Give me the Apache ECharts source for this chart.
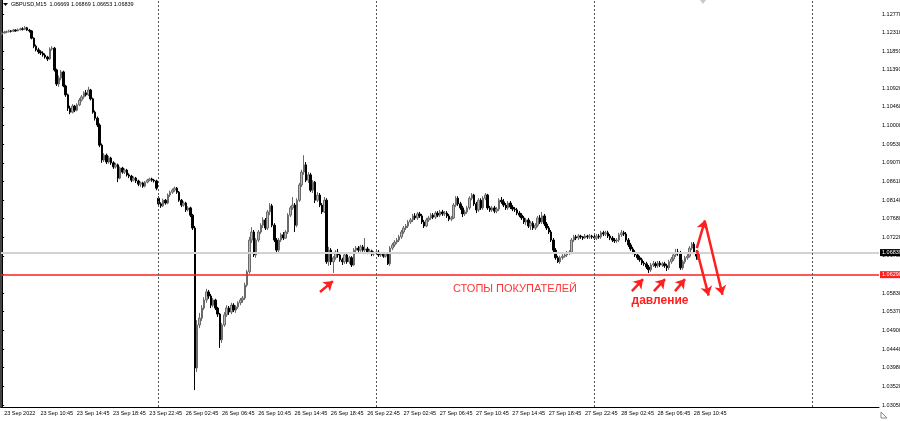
<!DOCTYPE html>
<html>
<head>
<meta charset="utf-8">
<title>GBPUSD,M15</title>
<script src="https://cdn.jsdelivr.net/npm/echarts@6/dist/echarts.min.js"></script>
<style>
html, body { margin: 0; padding: 0; background: #fff; }
#chart { width: 900px; height: 421px; }
</style>
</head>
<body>
<div id="chart"></div>
<script>
// M15 candles, [open, close, low, high], one array per trading day
var sep23 = [
  [1.1227,1.1230,1.1224,1.1233],[1.1230,1.1232,1.1228,1.1235],[1.1232,1.1233,1.1229,1.1236],[1.1233,1.1235,1.1231,1.1238],
  [1.1235,1.1234,1.1231,1.1237],[1.1234,1.1237,1.1232,1.1240],[1.1237,1.1235,1.1233,1.1239],[1.1235,1.1238,1.1234,1.1241],
  [1.1238,1.1240,1.1236,1.1243],[1.1240,1.1239,1.1236,1.1244],[1.1239,1.1243,1.1237,1.1247],[1.1243,1.1237,1.1235,1.1245],
  [1.1237,1.1235,1.1231,1.1240],[1.1235,1.1217,1.1214,1.1237],[1.1217,1.1197,1.1192,1.1219],[1.1197,1.1188,1.1184,1.1201],
  [1.1188,1.1183,1.1178,1.1193],[1.1183,1.1180,1.1175,1.1187],[1.1180,1.1175,1.1171,1.1184],[1.1175,1.1170,1.1166,1.1179],
  [1.1170,1.1165,1.1160,1.1173],[1.1165,1.1190,1.1163,1.1194],[1.1190,1.1192,1.1186,1.1197],[1.1192,1.1138,1.1134,1.1195],
  [1.1138,1.1103,1.1098,1.1141],[1.1103,1.1118,1.1096,1.1124],[1.1118,1.1133,1.1112,1.1138],[1.1133,1.1098,1.1095,1.1136],
  [1.1098,1.1076,1.1071,1.1101],[1.1076,1.1043,1.1036,1.1079],[1.1043,1.1033,1.1028,1.1049],[1.1033,1.1048,1.1030,1.1053],
  [1.1048,1.1038,1.1033,1.1051],[1.1038,1.1051,1.1035,1.1055],[1.1051,1.1063,1.1048,1.1068],[1.1063,1.1071,1.1059,1.1076],
  [1.1071,1.1081,1.1066,1.1085],[1.1081,1.1076,1.1072,1.1088],[1.1076,1.1088,1.1073,1.1096],[1.1088,1.1066,1.1062,1.1091],
  [1.1066,1.1033,1.1029,1.1069],[1.1033,1.1018,1.1012,1.1037],[1.1018,1.1001,1.0996,1.1022],[1.1001,1.0951,1.0946,1.1005],
  [1.0951,1.0914,1.0907,1.0955],[1.0914,1.0926,1.0909,1.0931],[1.0926,1.0909,1.0904,1.0930],[1.0909,1.0919,1.0905,1.0924],
  [1.0919,1.0907,1.0902,1.0922],[1.0907,1.0897,1.0892,1.0911],[1.0897,1.0902,1.0893,1.0907],[1.0902,1.0869,1.0859,1.0905],
  [1.0869,1.0894,1.0866,1.0898],[1.0894,1.0884,1.0880,1.0897],[1.0884,1.0889,1.0879,1.0893],[1.0889,1.0877,1.0873,1.0892],
  [1.0877,1.0874,1.0869,1.0881],[1.0874,1.0864,1.0859,1.0877],[1.0864,1.0869,1.0861,1.0873],[1.0869,1.0862,1.0857,1.0872],
  [1.0862,1.0854,1.0849,1.0865],[1.0854,1.0857,1.0847,1.0860],[1.0857,1.0849,1.0845,1.0860],[1.0849,1.0859,1.0846,1.0862],
  [1.0859,1.0864,1.0856,1.0867],[1.0864,1.0867,1.0861,1.0870],[1.0867,1.0864,1.0860,1.0870],[1.0864,1.0862,1.0858,1.0867],
  [1.0862,1.0844,1.0839,1.0865]
];
var sep26 = [
  [1.0819,1.0805,1.0800,1.0824],[1.0805,1.0800,1.0795,1.0809],[1.0800,1.0814,1.0797,1.0818],[1.0814,1.0807,1.0803,1.0817],
  [1.0807,1.0827,1.0804,1.0831],[1.0827,1.0834,1.0822,1.0838],[1.0834,1.0839,1.0830,1.0843],[1.0839,1.0844,1.0835,1.0848],
  [1.0844,1.0834,1.0830,1.0847],[1.0834,1.0814,1.0810,1.0837],[1.0814,1.0802,1.0797,1.0817],[1.0802,1.0807,1.0798,1.0811],
  [1.0807,1.0790,1.0785,1.0810],[1.0790,1.0795,1.0786,1.0799],[1.0795,1.0777,1.0772,1.0798],[1.0777,1.0745,1.0740,1.0780],
  [1.0745,1.0397,1.0342,1.0750],[1.0397,1.0504,1.0387,1.0516],[1.0504,1.0521,1.0496,1.0534],[1.0521,1.0546,1.0514,1.0553],
  [1.0546,1.0566,1.0541,1.0573],[1.0566,1.0586,1.0559,1.0594],[1.0586,1.0576,1.0569,1.0591],[1.0576,1.0553,1.0546,1.0581],
  [1.0553,1.0566,1.0548,1.0571],[1.0566,1.0546,1.0541,1.0569],[1.0546,1.0531,1.0524,1.0549],[1.0531,1.0467,1.0447,1.0534],
  [1.0467,1.0504,1.0459,1.0509],[1.0504,1.0529,1.0499,1.0536],[1.0529,1.0546,1.0524,1.0553],[1.0546,1.0536,1.0529,1.0551],
  [1.0536,1.0553,1.0531,1.0559],[1.0553,1.0541,1.0536,1.0558],[1.0541,1.0549,1.0534,1.0553],[1.0549,1.0559,1.0544,1.0563],
  [1.0559,1.0566,1.0553,1.0571],[1.0566,1.0571,1.0559,1.0576],[1.0571,1.0603,1.0566,1.0609],[1.0603,1.0636,1.0598,1.0641],
  [1.0636,1.0715,1.0631,1.0723],[1.0715,1.0735,1.0708,1.0747],[1.0735,1.0678,1.0673,1.0740],[1.0678,1.0715,1.0671,1.0720],
  [1.0715,1.0735,1.0710,1.0740],[1.0735,1.0752,1.0730,1.0757],[1.0752,1.0765,1.0745,1.0772],[1.0765,1.0745,1.0740,1.0770],
  [1.0745,1.0785,1.0740,1.0790],[1.0785,1.0800,1.0777,1.0807],[1.0800,1.0752,1.0747,1.0805],[1.0752,1.0715,1.0710,1.0757],
  [1.0715,1.0690,1.0683,1.0720],[1.0690,1.0715,1.0685,1.0720],[1.0715,1.0728,1.0710,1.0733],[1.0728,1.0720,1.0715,1.0735],
  [1.0720,1.0735,1.0718,1.0740],[1.0735,1.0777,1.0730,1.0782],[1.0777,1.0795,1.0772,1.0800],[1.0795,1.0802,1.0790,1.0822],
  [1.0802,1.0752,1.0735,1.0807],[1.0752,1.0814,1.0747,1.0819],[1.0814,1.0852,1.0810,1.0857],[1.0852,1.0884,1.0847,1.0890],
  [1.0884,1.0902,1.0877,1.0926],[1.0902,1.0864,1.0859,1.0909],[1.0864,1.0877,1.0857,1.0884],[1.0877,1.0839,1.0834,1.0882],
  [1.0839,1.0859,1.0832,1.0864],[1.0859,1.0814,1.0807,1.0862],[1.0814,1.0827,1.0810,1.0834],[1.0827,1.0802,1.0797,1.0832],
  [1.0802,1.0785,1.0780,1.0807],[1.0785,1.0814,1.0782,1.0822],[1.0814,1.0661,1.0656,1.0819],[1.0661,1.0690,1.0651,1.0698],
  [1.0690,1.0661,1.0653,1.0695],[1.0661,1.0671,1.0633,1.0675],[1.0671,1.0685,1.0666,1.0690],[1.0685,1.0678,1.0671,1.0693],
  [1.0678,1.0666,1.0661,1.0683],[1.0666,1.0661,1.0653,1.0671],[1.0661,1.0678,1.0656,1.0683],[1.0678,1.0661,1.0656,1.0685],
  [1.0661,1.0671,1.0656,1.0676],[1.0671,1.0653,1.0648,1.0675],[1.0653,1.0690,1.0651,1.0695],[1.0690,1.0695,1.0685,1.0700],
  [1.0695,1.0690,1.0685,1.0700],[1.0690,1.0698,1.0686,1.0703],[1.0698,1.0690,1.0686,1.0703],[1.0690,1.0693,1.0685,1.0720],
  [1.0693,1.0685,1.0680,1.0698],[1.0685,1.0688,1.0680,1.0693],[1.0688,1.0680,1.0675,1.0691],[1.0680,1.0683,1.0675,1.0688]
];
var sep27 = [
  [1.0683,1.0685,1.0678,1.0690],[1.0685,1.0678,1.0673,1.0690],[1.0678,1.0680,1.0673,1.0685],[1.0680,1.0675,1.0671,1.0685],
  [1.0675,1.0680,1.0671,1.0683],[1.0680,1.0656,1.0653,1.0683],[1.0656,1.0695,1.0651,1.0700],[1.0695,1.0703,1.0690,1.0708],
  [1.0703,1.0710,1.0698,1.0715],[1.0710,1.0715,1.0705,1.0720],[1.0715,1.0723,1.0710,1.0728],[1.0723,1.0735,1.0718,1.0740],
  [1.0735,1.0745,1.0730,1.0750],[1.0745,1.0750,1.0740,1.0755],[1.0750,1.0760,1.0745,1.0765],[1.0760,1.0765,1.0755,1.0770],
  [1.0765,1.0775,1.0760,1.0780],[1.0775,1.0770,1.0765,1.0782],[1.0770,1.0780,1.0765,1.0785],[1.0780,1.0775,1.0770,1.0785],
  [1.0775,1.0760,1.0755,1.0780],[1.0760,1.0750,1.0745,1.0765],[1.0750,1.0765,1.0747,1.0770],[1.0765,1.0770,1.0760,1.0775],
  [1.0770,1.0777,1.0765,1.0782],[1.0777,1.0772,1.0767,1.0782],[1.0772,1.0782,1.0767,1.0787],[1.0782,1.0777,1.0772,1.0787],
  [1.0777,1.0785,1.0772,1.0790],[1.0785,1.0780,1.0775,1.0790],[1.0780,1.0782,1.0775,1.0787],[1.0782,1.0775,1.0770,1.0787],
  [1.0775,1.0767,1.0762,1.0780],[1.0767,1.0770,1.0762,1.0775],[1.0770,1.0802,1.0767,1.0807],[1.0802,1.0819,1.0797,1.0824],
  [1.0819,1.0805,1.0800,1.0824],[1.0805,1.0795,1.0790,1.0810],[1.0795,1.0780,1.0772,1.0800],[1.0780,1.0785,1.0775,1.0790],
  [1.0785,1.0795,1.0780,1.0800],[1.0795,1.0819,1.0790,1.0824],[1.0819,1.0827,1.0814,1.0832],[1.0827,1.0805,1.0800,1.0830],
  [1.0805,1.0790,1.0782,1.0810],[1.0790,1.0814,1.0785,1.0819],[1.0814,1.0795,1.0790,1.0819],[1.0795,1.0819,1.0790,1.0824],
  [1.0819,1.0827,1.0814,1.0832],[1.0827,1.0795,1.0790,1.0830],[1.0795,1.0790,1.0785,1.0800],[1.0790,1.0795,1.0785,1.0800],
  [1.0795,1.0787,1.0782,1.0800],[1.0787,1.0792,1.0782,1.0797],[1.0792,1.0814,1.0787,1.0819],[1.0814,1.0810,1.0805,1.0822],
  [1.0810,1.0802,1.0797,1.0817],[1.0802,1.0795,1.0790,1.0807],[1.0795,1.0807,1.0790,1.0812],[1.0807,1.0797,1.0792,1.0812],
  [1.0797,1.0792,1.0787,1.0802],[1.0792,1.0790,1.0785,1.0797],[1.0790,1.0782,1.0777,1.0795],[1.0782,1.0777,1.0772,1.0787],
  [1.0777,1.0770,1.0765,1.0782],[1.0770,1.0760,1.0755,1.0775],[1.0760,1.0765,1.0752,1.0770],[1.0765,1.0750,1.0745,1.0770],
  [1.0750,1.0757,1.0740,1.0762],[1.0757,1.0745,1.0740,1.0762],[1.0745,1.0752,1.0740,1.0757],[1.0752,1.0770,1.0747,1.0775],
  [1.0770,1.0760,1.0755,1.0777],[1.0760,1.0775,1.0755,1.0785],[1.0775,1.0755,1.0750,1.0780],[1.0755,1.0745,1.0740,1.0760],
  [1.0745,1.0735,1.0730,1.0750],[1.0735,1.0715,1.0710,1.0740],[1.0715,1.0690,1.0685,1.0720],[1.0690,1.0671,1.0666,1.0695],
  [1.0671,1.0661,1.0658,1.0676],[1.0661,1.0671,1.0656,1.0676],[1.0671,1.0675,1.0666,1.0680],[1.0675,1.0678,1.0671,1.0683],
  [1.0678,1.0683,1.0673,1.0688],[1.0683,1.0685,1.0678,1.0690],[1.0685,1.0715,1.0680,1.0720],[1.0715,1.0723,1.0710,1.0728],
  [1.0723,1.0720,1.0715,1.0728],[1.0720,1.0725,1.0715,1.0730],[1.0725,1.0723,1.0718,1.0728],[1.0723,1.0720,1.0715,1.0725],
  [1.0720,1.0725,1.0718,1.0730],[1.0725,1.0723,1.0718,1.0728],[1.0723,1.0725,1.0718,1.0730],[1.0725,1.0723,1.0718,1.0728]
];
var sep28 = [
  [1.0723,1.0720,1.0715,1.0728],[1.0720,1.0725,1.0715,1.0730],[1.0725,1.0723,1.0718,1.0730],[1.0723,1.0733,1.0718,1.0738],
  [1.0733,1.0730,1.0725,1.0738],[1.0730,1.0733,1.0725,1.0738],[1.0733,1.0725,1.0720,1.0738],[1.0725,1.0720,1.0715,1.0730],
  [1.0720,1.0715,1.0710,1.0725],[1.0715,1.0713,1.0708,1.0720],[1.0713,1.0715,1.0708,1.0720],[1.0715,1.0728,1.0710,1.0733],
  [1.0728,1.0733,1.0723,1.0740],[1.0733,1.0730,1.0725,1.0738],[1.0730,1.0715,1.0710,1.0735],[1.0715,1.0703,1.0698,1.0720],
  [1.0703,1.0693,1.0688,1.0708],[1.0693,1.0685,1.0680,1.0698],[1.0685,1.0678,1.0673,1.0690],[1.0678,1.0671,1.0666,1.0683],
  [1.0671,1.0666,1.0661,1.0676],[1.0666,1.0658,1.0653,1.0671],[1.0658,1.0656,1.0651,1.0663],[1.0656,1.0648,1.0643,1.0661],
  [1.0648,1.0641,1.0633,1.0653],[1.0641,1.0653,1.0636,1.0658],[1.0653,1.0656,1.0648,1.0663],[1.0656,1.0651,1.0646,1.0661],
  [1.0651,1.0658,1.0646,1.0663],[1.0658,1.0653,1.0648,1.0663],[1.0653,1.0656,1.0648,1.0661],[1.0656,1.0651,1.0646,1.0661],
  [1.0651,1.0646,1.0638,1.0656],[1.0646,1.0661,1.0641,1.0666],[1.0661,1.0668,1.0656,1.0673],[1.0668,1.0678,1.0663,1.0683],
  [1.0678,1.0685,1.0673,1.0693],[1.0685,1.0683,1.0676,1.0693],[1.0683,1.0646,1.0641,1.0688],[1.0646,1.0661,1.0641,1.0666],
  [1.0661,1.0671,1.0656,1.0676],[1.0671,1.0675,1.0666,1.0680],[1.0675,1.0695,1.0671,1.0700],[1.0695,1.0705,1.0690,1.0710],
  [1.0705,1.0685,1.0680,1.0710],[1.0685,1.0675,1.0666,1.0690],[1.06669,1.06839,1.06653,1.06869]
];

var xTickLabels = [
  '23 Sep 2022', '23 Sep 10:45', '23 Sep 14:45', '23 Sep 18:45', '23 Sep 22:45',
  '26 Sep 02:45', '26 Sep 06:45', '26 Sep 10:45', '26 Sep 14:45', '26 Sep 18:45', '26 Sep 22:45',
  '27 Sep 02:45', '27 Sep 06:45', '27 Sep 10:45', '27 Sep 14:45', '27 Sep 18:45', '27 Sep 22:45',
  '28 Sep 02:45', '28 Sep 06:45', '28 Sep 10:45'
];
var yTickValues = [
  1.03050, 1.03520, 1.03980, 1.04440, 1.04900, 1.05370, 1.05830, 1.06290, 1.06760, 1.07220, 1.07680,
  1.08140, 1.08610, 1.09070, 1.09530, 1.10000, 1.10460, 1.10920, 1.11390, 1.11850, 1.12310, 1.12770
];
var bidPrice = 1.06839;
var stopLevel = 1.06290;
var daySeparators = [69, 165, 261, 357];   // first bar of 26, 27, 28, 29 Sep
var slotCount = 387;                        // bars that fit in the window incl. chart shift
var labelStep = 16;                         // a time label every 4 hours

// annotation arrows, [bar, price] from tail to head
var arrows = [
  [[140.1, 1.0586], [145.8, 1.0613]],
  [[277.6, 1.0588], [282.5, 1.0618]],
  [[287.3, 1.0588], [292.2, 1.0618]],
  [[296.6, 1.0588], [301.0, 1.0618]],
  [[306.2, 1.0695], [309.8, 1.0764]],
  [[306.2, 1.0690], [311.4, 1.0577]],
  [[309.8, 1.0760], [317.5, 1.0579]]
];

var candles = sep23.concat(sep26, sep27, sep28);
var categories = [];
for (var i = 0; i < slotCount; i++) categories.push(String(i));

function isLabelSlot(index) {
  return index % labelStep === 0 && index / labelStep < xTickLabels.length;
}

var red = '#ff1f1f';
var axisFont = 'Liberation Sans';

function priceTag(price, bg) {
  return {
    show: true, position: 'end', distance: 1, formatter: price.toFixed(5),
    backgroundColor: bg, color: '#fff', padding: [1, 2, 0, 2], fontSize: 5.5, fontFamily: axisFont
  };
}

var chart = echarts.init(document.getElementById('chart'));
chart.setOption({
  animation: false,
  backgroundColor: '#ffffff',
  grid: { left: 1, right: 21, top: 0, bottom: 14, outerBoundsMode: 'none' },
  xAxis: [
    {
      type: 'category',
      data: categories,
      boundaryGap: true,
      axisLine: { lineStyle: { color: '#000', width: 1 } },
      axisTick: { alignWithLabel: true, length: 4, interval: isLabelSlot, lineStyle: { color: '#000' } },
      axisLabel: {
        interval: isLabelSlot,
        formatter: function (value) { return xTickLabels[parseInt(value, 10) / labelStep]; },
        align: 'left',
        margin: 3,
        padding: [0, 0, 0, 2],
        fontSize: 5.5,
        fontFamily: axisFont,
        color: '#000'
      },
      splitLine: { show: false }
    },
    { type: 'value', min: -0.5, max: slotCount - 0.5, show: false }
  ],
  yAxis: [
    {
      type: 'value',
      position: 'right',
      min: 1.0300,
      max: 1.13118,
      axisLine: { show: true, lineStyle: { color: '#000' } },
      axisTick: { show: true, length: 2, customValues: yTickValues, lineStyle: { color: '#000' } },
      axisLabel: {
        customValues: yTickValues,
        formatter: function (v) { return v.toFixed(5); },
        margin: 3,
        fontSize: 5.5,
        fontFamily: axisFont,
        color: '#000'
      },
      splitLine: { show: false }
    },
    {
      type: 'value',
      position: 'left',
      min: 1.0300,
      max: 1.13118,
      axisLine: { show: true, lineStyle: { color: '#444', width: 2 } },
      axisTick: { show: false },
      axisLabel: { show: false },
      splitLine: { show: false }
    }
  ],
  series: [
    {
      type: 'line',
      xAxisIndex: 1,
      yAxisIndex: 0,
      data: [],
      markLine: {
        silent: true,
        symbol: 'none',
        precision: 5,
        data: [
          { yAxis: bidPrice, lineStyle: { color: '#d2d2d2', width: 2, type: 'solid' }, label: priceTag(bidPrice, '#000') },
          { yAxis: stopLevel, lineStyle: { color: red, width: 1.5, type: 'solid' }, label: priceTag(stopLevel, red) }
        ]
      }
    },
    {
      type: 'line',
      xAxisIndex: 1,
      yAxisIndex: 0,
      data: [],
      markLine: {
        silent: true,
        symbol: 'none',
        precision: 2,
        label: { show: false },
        lineStyle: { color: '#555', type: [2, 2], width: 1 },
        data: daySeparators.map(function (d) { return { xAxis: d }; })
      }
    },
    {
      type: 'candlestick',
      xAxisIndex: 0,
      yAxisIndex: 0,
      data: candles,
      barWidth: 2,
      itemStyle: {
        color: '#b8b8b8',
        borderColor: '#6a6a6a',
        color0: '#000000',
        borderColor0: '#000000',
        borderWidth: 1
      }
    },
    {
      type: 'line',
      xAxisIndex: 1,
      yAxisIndex: 0,
      data: [],
      markLine: {
        silent: true,
        symbol: ['none', 'arrow'],
        symbolSize: 9,
        precision: 5,
        label: { show: false },
        lineStyle: { color: red, type: 'solid', width: 2.5 },
        data: arrows.map(function (a) { return [{ coord: a[0] }, { coord: a[1] }]; })
      }
    }
  ],
  graphic: [
    { type: 'polygon', shape: { points: [[3, 3], [8, 3], [5.5, 6]] }, style: { fill: '#000' } },
    {
      type: 'text', x: 11, y: 1,
      style: { text: 'GBPUSD,M15  1.06669 1.06869 1.06653 1.06839', fill: '#000', fontSize: 5.5, fontFamily: axisFont }
    },
    { type: 'polygon', shape: { points: [[700, 0], [706, 0], [703, 4]] }, style: { fill: '#c8c8c8' } },
    { type: 'polygon', shape: { points: [[881, 412], [887, 418], [881, 418]] }, style: { fill: 'none', stroke: '#888', lineWidth: 1 } },
    {
      type: 'text', x: 515, y: 289,
      style: { text: 'СТОПЫ ПОКУПАТЕЛЕЙ', fill: '#ff3535', fontSize: 11, fontFamily: 'Liberation Sans', align: 'center', verticalAlign: 'middle' }
    },
    {
      type: 'text', x: 660, y: 301,
      style: { text: 'давление', fill: red, fontSize: 12, fontWeight: 'bold', fontFamily: 'Liberation Sans', align: 'center', verticalAlign: 'middle' }
    }
  ]
});
</script>
</body>
</html>
